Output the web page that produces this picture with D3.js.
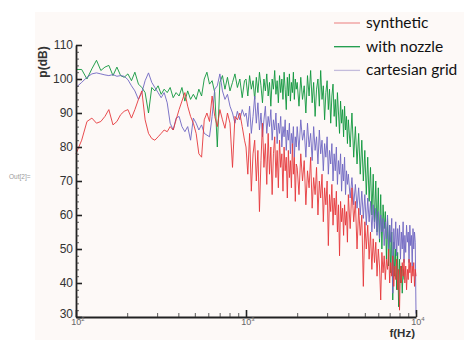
<!DOCTYPE html>
<html lang="en">
<head>
<meta charset="UTF-8">
<title>spectrum</title>
<script src="https://d3js.org/d3.v7.min.js"></script>
<style>
  html, body { margin: 0; padding: 0; background: #fff; }
  svg { display: block; }
</style>
</head>
<body>
<div id="chart"></div>
<script>
// frequency bins (Hz), shared by all three spectra
const freqs = [
  100,108,116,124,132,140,148,156,165,174,183,192,202,212,222,233,244,255,267,279,
  291,304,317,330,344,358,373,388,404,420,437,454,472,490,509,528,548,568,589,610,
  632,655,678,702,727,752,778,805,833,861,890,920,950,980,
  1000,1025,1050,1075,1100,1125,1150,1175,1200,1225,1250,1275,1300,1325,1350,1375,1400,1425,1450,1475,
  1500,1525,1550,1575,1600,1625,1650,1675,1700,1725,1750,1775,1800,1825,1850,1875,1900,1925,1950,1975,
  2000,2050,2100,2150,2200,2250,2300,2350,2400,2450,2500,2550,2600,2650,2700,2750,2800,2850,2900,2950,
  3000,3050,3100,3150,3200,3250,3300,3350,3400,3450,3500,3550,3600,3650,3700,3750,3800,3850,3900,3950,
  4000,4100,4200,4300,4400,4500,4600,4700,4800,4900,5000,5100,5200,5300,5400,5500,5600,5700,5800,5900,
  6000,6100,6200,6300,6400,6500,6600,6700,6800,6900,7000,7100,7200,7300,7400,7500,7600,7700,7800,7900,
  8000,8100,8200,8300,8400,8500,8600,8700,8800,8900,9000,9100,9200,9300,9400,9500,9600,9700,9800,9900,
  10000
];

// p(dB)
const synthetic = [
  78,82,87.5,88.5,87,87.5,89,91,86.5,87.5,89.5,90.5,91,88.5,91,94,96.5,88,84,82.5,
  82,83,84,85,84.5,86,85,88,91,93.5,96,92,89,87,84,78,77,88,90,87.5,
  95,89,86,91,88,85.5,90,87,74,89,88,90,86,82,
  80,72,84,67,78,82,70,79,61,76,87,74,81,69,84,72,80,66,78,83,
  71,79,68,82,74,78,67,80,73,77,65,79,71,76,68,81,72,77,64,75,
  74,66,78,70,76,63,73,68,77,62,71,66,74,60,70,65,72,58,68,63,
  70,51,66,61,69,57,65,60,67,55,63,48,64,58,62,54,63,57,61,52,
  66,56,68,58,64,50,62,54,60,39,58,50,57,47,55,44,53,46,52,42,
  50,45,35,49,43,48,41,47,44,50,40,46,42,48,39,45,41,47,38,44,
  32,45,40,46,42,47,40,45,38,44,41,47,43,46,40,45,42,46,39,44,
  42
];

const withNozzle = [
  102.8,102.8,100,103,105.5,102.5,103.5,104,101,103.5,101,100.5,101.5,99.5,102,98.5,97.5,96,90,97.5,
  96.5,98,95.5,97,96,97.5,94.5,96,95,97.5,93.5,96.5,94,95.5,94,97,95,100,102,98.5,
  99.5,96,80,99,101,97,100.5,96.5,99,101.5,97.5,100,94.5,99.5,
  100,95,101,97,99.5,94,100.5,96,102,98,93,100,96.5,101.5,95,99,92,100,97,102.5,
  95.5,99.5,93,101,96,100,94,102,97,91,100.5,95,101.5,93.5,99,96,102,94,100,97,
  99,92,100.5,94,98,90,101,95,102.5,93,99,89,97,100,92,102.5,94,98,88,96,
  99.5,91,97,87,95,98.5,89,94,86,96,90,84,93.5,87,91,83,92,85,89,81,
  88,80,90,77,86,75,84,72,82,70,79,66,77,64,74,60,72,58,70,55,
  68,52,66,50,63,56,61,47,59,45,57,43,55,35,52,42,50,38,49,33,
  47,40,45,37,44,41,null,null,null,null,null,null,null,null,null,null,null,null,null,null,
  null
];

const cartesian = [
  97.5,99,100.5,101.5,101.8,101.5,101.2,101,101.3,100.8,101,100.8,99.8,98,96.5,94,96,99.5,101.8,99,
  97.5,96,94.5,96,93,87,85,88.5,89,86,84.5,86,82,88.5,87,85,86.5,84,83.5,83,
  89,97,98,101.5,96.5,94,95.5,92,90,87,90.5,88,91,89,
  90,86,92,84,89,95,87,93,85,90,83,88,92,84,89,86,91,82,88,85,
  90,81,87,84,89,80,86,83,88,79,85,82,87,78,84,81,86,77,83,80,
  86,79,88,82,85,77,87,80,84,76,86,79,83,75,85,78,82,73,81,77,
  83,72,79,75,81,70,78,73,80,69,76,72,78,67,75,70,77,66,73,69,
  72,65,71,63,69,62,68,60,67,59,66,57,65,58,64,55,63,56,62,54,
  61,53,60,55,59,51,58,53,60,50,57,52,59,37,56,50,58,48,56,51,
  57,47,55,50,58,46,54,49,57,52,55,46,57,51,54,45,56,50,55,52,
  31
];

const seriesNames = ["synthetic", "with nozzle", "cartesian grid"];
const yTicks = [30, 40, 50, 60, 70, 80, 90, 100, 110];
const xTicks = [100, 1000, 10000];
const xTickExp = ["2", "3", "4"];

const width = 464, height = 340;
const plot = {left: 76, right: 416, top: 45, bottom: 317};
const colors = {"synthetic": "#e5383b", "with nozzle": "#0f963c", "cartesian grid": "#6f66c2"};
const legendColors = {"synthetic": "#f09a9a", "with nozzle": "#1a9a48", "cartesian grid": "#c4bcdc"};

const x = d3.scaleLog().domain([100, 10000]).range([plot.left, plot.right]);
const y = d3.scaleLinear().domain([30, 110]).range([plot.bottom, plot.top]);

const svg = d3.select('#chart').append('svg')
  .attr('width', width)
  .attr('height', height);

// panel background
svg.append('rect')
  .attr('x', 35).attr('y', 12)
  .attr('width', width - 35).attr('height', height - 12)
  .attr('fill', '#fdf9f7');

svg.append('text')
  .attr('x', 9).attr('y', 179)
  .attr('font-family', 'Liberation Sans, Arial, sans-serif')
  .attr('font-size', 6.5)
  .attr('fill', '#9a9a9a')
  .text('Out[2]=');

// curves
const line = d3.line()
  .defined(d => d[1] != null)
  .x(d => x(d[0]))
  .y(d => y(d[1]));

const drawOrder = [["with nozzle", withNozzle], ["cartesian grid", cartesian], ["synthetic", synthetic]];
drawOrder.forEach(([name, vals]) => {
  svg.append('path')
    .datum(freqs.map((f, i) => [f, vals[i]]))
    .attr('fill', 'none')
    .attr('stroke', colors[name])
    .attr('stroke-width', 0.9)
    .attr('stroke-linejoin', 'round')
    .attr('d', line);
});

// y axis: major + minor ticks pointing inward
const gY = svg.append('g').attr('transform', `translate(${plot.left},0)`);
gY.call(d3.axisLeft(y).tickValues(yTicks).tickSize(-6).tickSizeOuter(0).tickPadding(3));
gY.selectAll('.tick line').attr('stroke', '#222').attr('stroke-width', 1.6);
gY.select('.domain').attr('stroke', '#222').attr('stroke-width', 1.8);
gY.selectAll('text')
  .attr('font-family', 'Liberation Sans, Arial, sans-serif')
  .attr('font-size', 12)
  .attr('fill', '#333');
// "30" sits a little higher, clear of the x labels
gY.selectAll('.tick').filter(d => d === 30).select('text').attr('dy', '0.05em');

const gYm = svg.append('g').attr('transform', `translate(${plot.left},0)`);
gYm.call(d3.axisLeft(y).tickValues(y.ticks(40).filter(v => v % 10 !== 0)).tickSize(-3).tickSizeOuter(0).tickFormat(''));
gYm.select('.domain').remove();
gYm.selectAll('.tick line').attr('stroke', '#333').attr('stroke-width', 0.8);

// x axis
const gX = svg.append('g').attr('transform', `translate(0,${plot.bottom})`);
gX.call(d3.axisBottom(x).tickValues(xTicks).tickSize(-7).tickSizeOuter(0).tickFormat(''));
gX.selectAll('.tick line').attr('stroke', '#222').attr('stroke-width', 1.6);
gX.select('.domain').attr('stroke', '#222').attr('stroke-width', 1.8);

const gXm = svg.append('g').attr('transform', `translate(0,${plot.bottom})`);
gXm.call(d3.axisBottom(x).tickValues(x.ticks().filter(v => !xTicks.includes(v))).tickSize(-4).tickSizeOuter(0).tickFormat(''));
gXm.select('.domain').remove();
gXm.selectAll('.tick line').attr('stroke', '#333').attr('stroke-width', 0.8);

const xl = svg.append('g').selectAll('text').data(xTicks).enter().append('text')
  .attr('x', d => x(d) + 2)
  .attr('y', 324.5)
  .attr('text-anchor', 'middle')
  .attr('font-family', 'Liberation Sans, Arial, sans-serif')
  .attr('font-size', 9)
  .attr('fill', '#666');
xl.append('tspan').text('10');
xl.append('tspan').attr('dy', -4).attr('font-size', 6).text((d, i) => xTickExp[i]);

// axis titles
svg.append('text')
  .attr('x', 415).attr('y', 337)
  .attr('text-anchor', 'end')
  .attr('font-family', 'Liberation Sans, Arial, sans-serif')
  .attr('font-size', 11.5).attr('font-weight', 'bold')
  .attr('fill', '#333')
  .text('f(Hz)');

svg.append('text')
  .attr('transform', 'translate(47,62) rotate(-90)')
  .attr('text-anchor', 'middle')
  .attr('font-family', 'Liberation Sans, Arial, sans-serif')
  .attr('font-size', 12).attr('font-weight', 'bold')
  .attr('fill', '#333')
  .text('p(dB)');

// legend
const lg = svg.append('g').selectAll('g').data(seriesNames).enter().append('g')
  .attr('transform', (d, i) => `translate(334,${23 + i * 23.7})`);
lg.append('line')
  .attr('x1', 0).attr('x2', 26)
  .attr('stroke', d => legendColors[d])
  .attr('stroke-width', 1.3);
lg.append('text')
  .attr('x', 32).attr('y', 5)
  .attr('font-family', 'Lato, Liberation Sans, sans-serif')
  .attr('font-size', 15.5)
  .attr('fill', '#111')
  .text(d => d);
</script>
</body>
</html>
